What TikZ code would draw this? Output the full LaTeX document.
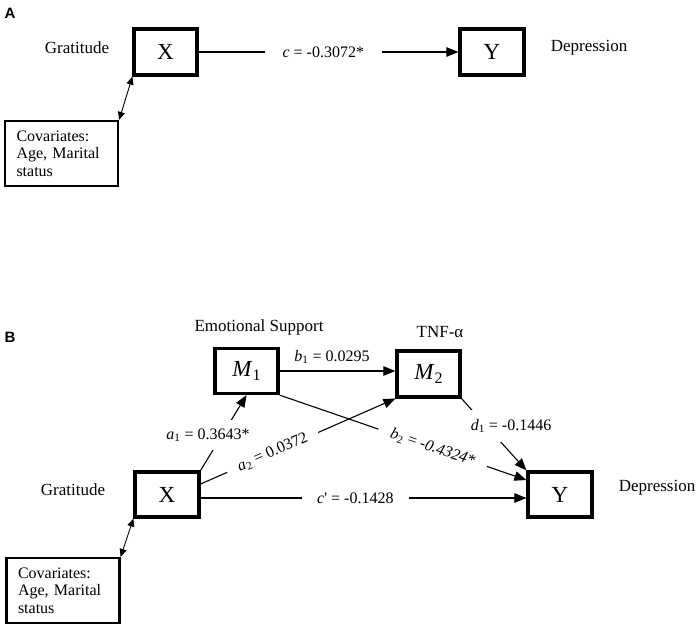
\documentclass[tikz,border=0pt]{standalone}
\usepackage{fontspec}
\setmainfont{Liberation Serif}
\newfontfamily\panelfont{Liberation Sans}
\usetikzlibrary{arrows.meta,calc}
\newcommand\mysub[1]{\textsubscript{#1}}
\newcommand\bigsub[1]{\raisebox{-0.35ex}{\fontsize{16}{16}\selectfont #1}}
\begin{document}
\begin{tikzpicture}[x=1pt,y=-1pt,
 bx/.style={draw,line width=3.2pt,minimum width=63pt,minimum height=46pt,inner sep=0pt,font=\fontsize{23}{23}\selectfont},
 cov/.style={draw,line width=2.2pt,minimum width=113pt,minimum height=65pt,text width=90pt,inner xsep=11.5pt,align=left,font=\fontsize{16}{17.5}\selectfont},
 var/.style={font=\fontsize{17}{20}\selectfont},
 elab/.style={font=\fontsize{16}{18}\selectfont,fill=white,inner ysep=2pt},
 plab/.style={font=\fontsize{16}{18}\selectfont},
 arr/.style={line width=1.1pt,-{Triangle[length=12pt,width=9.5pt]}},
 darr/.style={line width=0.9pt,{Triangle[length=8pt,width=7pt]}-{Triangle[length=8pt,width=7pt]}},
 panel/.style={font=\panelfont\bfseries\fontsize{15}{15}\selectfont}]
\useasboundingbox (0,0) rectangle (700,630);

% ---------- Panel A ----------
\node[panel] (pA) at (10,13) {A};
\node[bx] (XA) at (165.5,52) {X};
\node[bx,minimum width=64pt] (YA) at (492,52) {Y};
\node[var] (gA) at (77,48) {Gratitude};
\node[var] (dA) at (589,48) {Depression};
\node[cov] (cA) at (61.5,153.5) {Covariates:\\Age, Marital\\status};
\draw[arr] (XA) -- (YA) node[elab,pos=0.48,inner xsep=18pt] {\textit{c} = -0.3072*};
\draw[darr] (cA.north east) -- (XA.south west);

% ---------- Panel B ----------
\node[panel] (pB) at (10,337) {B};
\node[bx,minimum height=45pt] (M1) at (246.5,371) {\textit{M}\bigsub{1}};
\node[bx] (M2) at (428.5,374) {\textit{M}\bigsub{2}};
\node[bx,minimum width=64pt,minimum height=45pt] (XB) at (167,494.5) {X};
\node[bx,minimum width=64pt,minimum height=45pt] (YB) at (560,494.5) {Y};
\node[var] (es) at (259,327) {Emotional Support};
\node[var] (tnf) at (440,332) {TNF-α};
\node[var] (gB) at (73,490) {Gratitude};
\node[var] (dB) at (657,488) {Depression};
\node[cov] (cB) at (63,590.5) {Covariates:\\Age, Marital\\status};

\draw[arr] (M1.east) -- (M1.east -| M2.west);
\node[plab] (lb1) at (332,357) {\textit{b}\mysub{1} = 0.0295};

\draw[arr] (XB.north east) -- (M1.south);
\draw[arr] ($(XB.east)+(0,-10.5)$) -- (M2.south west)
  node[elab,sloped,pos=0.37,inner xsep=12pt] {\textit{a}\mysub{2} = 0.0372};
\draw[arr] (M1.south east) -- ($(YB.west)+(0,-14.5)$)
  node[elab,sloped,pos=0.62,inner xsep=13pt] {\textit{b}\mysub{2} = \textit{-0.4324*}};
\draw[arr] (M2.south east) -- (YB.north west);
\draw[arr] ($(XB.east)+(0,3.5)$) -- ($(YB.west)+(0,3.5)$)
  node[elab,pos=0.475,inner xsep=15pt] {\textit{c}\textquotesingle{} = -0.1428};
\draw[darr] (cB.north east) -- (XB.south west);

\node[elab,inner ysep=8pt] (la1) at (208,435) {\textit{a}\mysub{1} = 0.3643*};
\node[elab,inner ysep=9pt] (ld1) at (511,426) {\textit{d}\mysub{1} = -0.1446};
\end{tikzpicture}
\end{document}
